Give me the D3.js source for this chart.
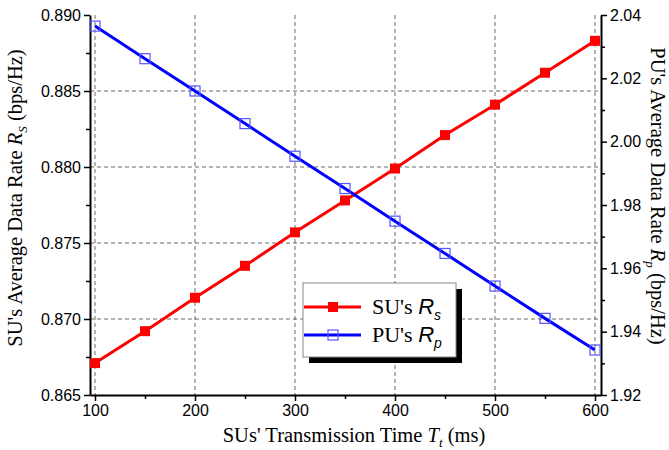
<!DOCTYPE html>
<html>
<head>
<meta charset="utf-8">
<script src="https://cdn.jsdelivr.net/npm/d3@7"></script>
<style>
  body { margin: 0; background: #fff; }
  .tick text { font-family: "Liberation Sans", Arial, sans-serif; font-size: 16px; fill: #000; }
  .ttl { font-family: "Liberation Serif", "Times New Roman", serif; font-size: 20.5px; fill: #000; }
</style>
</head>
<body>
<svg id="chart" width="669" height="450"></svg>
<script>
// transmission time (ms)
const times = [100, 150, 200, 250, 300, 350, 400, 450, 500, 550, 600];
// SU's average data rate Rs (left axis)
const suRate = [0.8671, 0.8692, 0.8714, 0.8735, 0.8757, 0.8778, 0.8799, 0.8821, 0.8841, 0.8862, 0.8883];
// PU's average data rate Rp (right axis)
const puRate = [2.0365, 2.0262, 2.0160, 2.0057, 1.9954, 1.9852, 1.9749, 1.9647, 1.9544, 1.9442, 1.9342];
const xTicks = [100, 200, 300, 400, 500, 600];
const leftTicks = [0.865, 0.870, 0.875, 0.880, 0.885, 0.890];
const rightTicks = [1.92, 1.94, 1.96, 1.98, 2.00, 2.02, 2.04];

const svg = d3.select("#chart");
const plotL = 90, plotR = 601, plotT = 15, plotB = 395;

const x = d3.scaleLinear().domain([95, 606]).range([plotL, plotR]);
const yL = d3.scaleLinear().domain([0.865, 0.890]).range([plotB, plotT]);
const yR = d3.scaleLinear().domain([1.92, 2.04]).range([plotB, plotT]);

// grid
const grid = svg.append("g").attr("stroke", "#444").attr("stroke-dasharray", "4,3").attr("stroke-width", 0.8);
grid.selectAll("line.v").data(xTicks).enter().append("line")
  .attr("x1", d => x(d)).attr("x2", d => x(d)).attr("y1", plotT).attr("y2", plotB);
grid.selectAll("line.h").data(leftTicks.slice(1, -1)).enter().append("line")
  .attr("y1", d => yL(d)).attr("y2", d => yL(d)).attr("x1", plotL).attr("x2", plotR);

// axes
function styleAxis(g){
  g.selectAll(".domain").attr("stroke", "#000").attr("stroke-width", 2);
  g.selectAll(".tick line").attr("stroke", "#000").attr("stroke-width", 1.5);
}
const xAxis = svg.append("g").attr("transform", `translate(0,${plotB})`)
  .call(d3.axisBottom(x).tickValues(xTicks).tickSize(6).tickSizeOuter(0).tickPadding(4).tickFormat(d3.format("d")));
svg.append("g").attr("transform", `translate(0,${plotB})`)
  .call(d3.axisBottom(x).tickValues(d3.range(150, 600, 100)).tickSize(4).tickSizeOuter(0).tickFormat(""))
  .call(g => g.select(".domain").remove())
  .call(styleAxis);
styleAxis(xAxis);

const lAxis = svg.append("g").attr("transform", `translate(${plotL},0)`)
  .call(d3.axisLeft(yL).tickValues(leftTicks).tickSize(6).tickSizeOuter(0).tickPadding(3).tickFormat(d3.format(".3f")));
svg.append("g").attr("transform", `translate(${plotL},0)`)
  .call(d3.axisLeft(yL).tickValues([0.8675, 0.8725, 0.8775, 0.8825, 0.8875]).tickSize(4).tickSizeOuter(0).tickFormat(""))
  .call(g => g.select(".domain").remove())
  .call(styleAxis);
styleAxis(lAxis);

const rAxis = svg.append("g").attr("transform", `translate(${plotR},0)`)
  .call(d3.axisRight(yR).tickValues(rightTicks).tickSize(6).tickSizeOuter(0).tickPadding(3).tickFormat(d3.format(".2f")));
svg.append("g").attr("transform", `translate(${plotR},0)`)
  .call(d3.axisRight(yR).tickValues([1.93, 1.95, 1.97, 1.99, 2.01, 2.03]).tickSize(4).tickSizeOuter(0).tickFormat(""))
  .call(g => g.select(".domain").remove())
  .call(styleAxis);
styleAxis(rAxis);

// lines
const suData = times.map((t, i) => [t, suRate[i]]);
const puData = times.map((t, i) => [t, puRate[i]]);

svg.append("path").datum(suData)
  .attr("fill", "none").attr("stroke", "#ff0000").attr("stroke-width", 3)
  .attr("d", d3.line().x(d => x(d[0])).y(d => yL(d[1])));
svg.append("path").datum(puData)
  .attr("fill", "none").attr("stroke", "#0000ff").attr("stroke-width", 3)
  .attr("d", d3.line().x(d => x(d[0])).y(d => yR(d[1])));

svg.selectAll("rect.su").data(suData).enter().append("rect")
  .attr("x", d => x(d[0]) - 5).attr("y", d => yL(d[1]) - 5)
  .attr("width", 10).attr("height", 10).attr("fill", "#ff0000");
svg.selectAll("rect.pu").data(puData).enter().append("rect")
  .attr("x", d => x(d[0]) - 5).attr("y", d => yR(d[1]) - 5)
  .attr("width", 10).attr("height", 10).attr("fill", "none")
  .attr("stroke", "#5555ff").attr("stroke-width", 1.2);

// legend
const lg = svg.append("g").attr("transform", "translate(303,283)");
lg.append("rect").attr("x", 6).attr("y", 6).attr("width", 153).attr("height", 74).attr("fill", "#000");
lg.append("rect").attr("x", 0).attr("y", 0).attr("width", 153).attr("height", 74)
  .attr("fill", "#fff").attr("stroke", "#888").attr("stroke-width", 1);
const items = [
  {name: "SU's ", sub: "s", color: "#ff0000", filled: true, y: 24},
  {name: "PU's ", sub: "p", color: "#0000ff", filled: false, y: 52}
];
items.forEach(it => {
  lg.append("line").attr("x1", 1).attr("x2", 58).attr("y1", it.y).attr("y2", it.y)
    .attr("stroke", it.color).attr("stroke-width", 3);
  lg.append("rect").attr("x", 25).attr("y", it.y - 5).attr("width", 10).attr("height", 10)
    .attr("fill", it.filled ? it.color : "none")
    .attr("stroke", it.filled ? "none" : "#5555ff").attr("stroke-width", 1.2);
  const t = lg.append("text").attr("x", 69).attr("y", it.y + 7)
    .attr("font-family", "Liberation Serif, serif").attr("font-size", 22);
  t.append("tspan").text(it.name);
  t.append("tspan").attr("font-family", "Liberation Sans, sans-serif").attr("font-style", "italic").text("R");
  t.append("tspan").attr("font-family", "Liberation Sans, sans-serif").attr("font-style", "italic")
    .attr("font-size", 14).attr("dy", 6).text(it.sub);
});

// axis titles
const xt = svg.append("text").attr("class", "ttl").attr("x", 354).attr("y", 442).attr("text-anchor", "middle");
xt.append("tspan").text("SUs' Transmission Time ");
xt.append("tspan").attr("font-style", "italic").text("T");
xt.append("tspan").attr("font-style", "italic").attr("font-size", 13).attr("dy", 5).text("t");
xt.append("tspan").attr("dy", -5).text(" (ms)");

const lt = svg.append("text").attr("class", "ttl").attr("text-anchor", "middle")
  .attr("transform", "translate(22,198) rotate(-90)");
lt.append("tspan").text("SU's Average Data Rate ");
lt.append("tspan").attr("font-style", "italic").text("R");
lt.append("tspan").attr("font-style", "italic").attr("font-size", 13).attr("dy", 5).text("S");
lt.append("tspan").attr("dy", -5).text(" (bps/Hz)");

const rt = svg.append("text").attr("class", "ttl").attr("text-anchor", "middle")
  .attr("transform", "translate(651,196) rotate(90)");
rt.append("tspan").text("PU's Average Data Rate ");
rt.append("tspan").attr("font-style", "italic").text("R");
rt.append("tspan").attr("font-style", "italic").attr("font-size", 13).attr("dy", 5).text("p");
rt.append("tspan").attr("dy", -5).text(" (bps/Hz)");
</script>
</body>
</html>
